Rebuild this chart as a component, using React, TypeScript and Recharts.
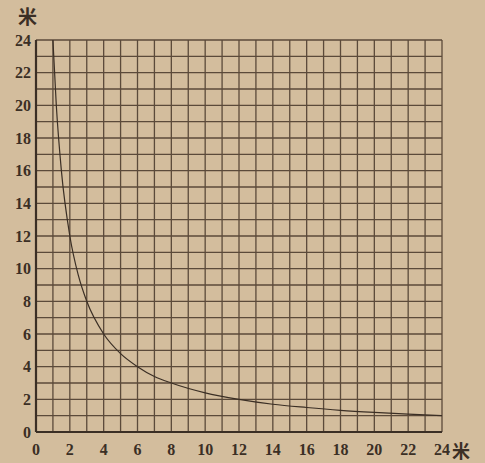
import React from 'react';
import { LineChart, Line, XAxis, YAxis, CartesianGrid } from 'recharts';

const xValues = [1, 1.2, 1.5, 2, 2.5, 3, 4, 5, 6, 7, 8, 10, 12, 14, 16, 18, 20, 22, 24];
const yValues = [24, 20, 16, 12, 9.6, 8, 6, 4.8, 4, 3.4, 3, 2.4, 2, 1.7, 1.5, 1.33, 1.2, 1.09, 1];
const gridTicks = [0,1,2,3,4,5,6,7,8,9,10,11,12,13,14,15,16,17,18,19,20,21,22,23,24];
const unitLabel = '米';

const data = xValues.map((x, i) => ({ x, y: yValues[i] }));

const BG = '#d3bd9d';
const INK = '#3b2f25';
const GRID = '#5b4a3a';

const fmt = (v: number) => (v % 2 === 0 ? String(v) : '');

export default function App() {
  return (
    <div style={{ position: 'absolute', left: 0, top: 0, width: 485, height: 463, background: BG, overflow: 'hidden' }}>
      <LineChart width={485} height={463} data={data} margin={{ top: 40, right: 43, bottom: 0, left: 0 }}>
        <CartesianGrid stroke={GRID} strokeWidth={1.3} horizontal vertical />
        <XAxis
          dataKey="x"
          type="number"
          domain={[0, 24]}
          ticks={gridTicks}
          interval={0}
          tickFormatter={fmt}
          tickLine={false}
          tickSize={0}
          tickMargin={12}
          height={31}
          axisLine={{ stroke: INK, strokeWidth: 2.2 }}
          tick={{ fill: INK, fontFamily: 'Liberation Serif', fontSize: 16, fontWeight: 600 }}
        />
        <YAxis
          type="number"
          domain={[0, 24]}
          ticks={gridTicks}
          interval={0}
          tickFormatter={fmt}
          tickLine={false}
          tickSize={0}
          tickMargin={5}
          width={36}
          axisLine={{ stroke: INK, strokeWidth: 2.2 }}
          tick={{ fill: INK, fontFamily: 'Liberation Serif', fontSize: 16, fontWeight: 600 }}
        />
        <Line dataKey="y" type="monotone" stroke={INK} strokeWidth={1.2} dot={false} isAnimationActive={false} />
      </LineChart>
      <span style={{ position: 'absolute', left: 18, top: 6, fontSize: 19, lineHeight: 1, fontWeight: 700, color: INK, fontFamily: 'Noto Sans CJK SC' }}>{unitLabel}</span>
      <span style={{ position: 'absolute', left: 452, top: 441, fontSize: 18, lineHeight: 1, fontWeight: 700, color: INK, fontFamily: 'Noto Sans CJK SC' }}>{unitLabel}</span>
    </div>
  );
}
